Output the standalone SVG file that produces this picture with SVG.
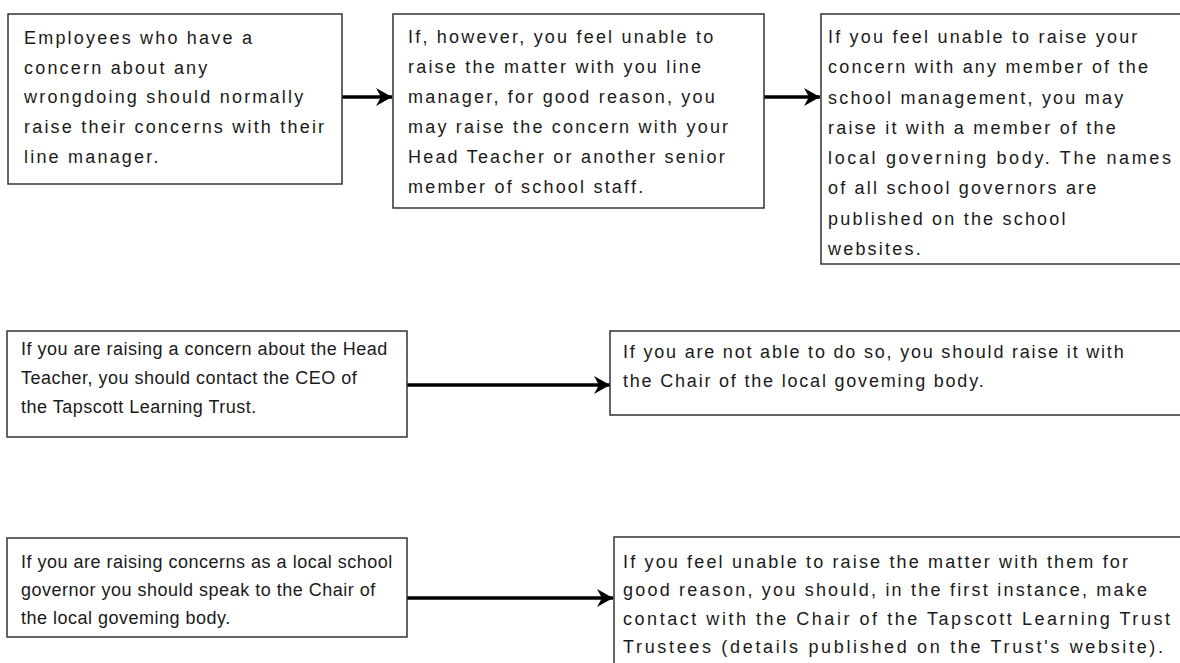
<svg xmlns="http://www.w3.org/2000/svg" width="1180" height="663" viewBox="0 0 1180 663">
<style>
.box{fill:#fff;stroke:#333;stroke-width:1.5}
.t{font-family:"Liberation Sans",Arial,sans-serif;font-size:18px;fill:#1a1a1a}
.w{letter-spacing:2.2px}
.n{letter-spacing:0.5px}
.m{letter-spacing:1.8px}
.c{stroke:#000;stroke-width:3.5;fill:none;marker-end:url(#ah)}
</style>
<defs>
<marker id="ah" markerUnits="userSpaceOnUse" markerWidth="18" markerHeight="20" refX="16" refY="10" orient="auto">
<path d="M0,1 L16,10 L0,19 L5,10 z" fill="#000"/>
</marker>
</defs>
<rect width="1180" height="663" fill="#fff"/>
<g id="connectors">
<line class="c" x1="342" y1="97" x2="392" y2="97"/>
<line class="c" x1="764" y1="97" x2="820" y2="97"/>
<line class="c" x1="407" y1="385" x2="610" y2="385"/>
<line class="c" x1="407" y1="598" x2="613" y2="598"/>
</g>
<g id="node1">
<rect class="box" x="8" y="14" width="334" height="170"/>
<text class="t w" x="24" y="44">Employees who have a</text>
<text class="t w" x="24" y="74">concern about any</text>
<text class="t w" x="24" y="103">wrongdoing should normally</text>
<text class="t w" x="24" y="133">raise their concerns with their</text>
<text class="t w" x="24" y="163">line manager.</text>
</g>
<g id="node2">
<rect class="box" x="393" y="14" width="371" height="194"/>
<text class="t w" x="408" y="43">If, however, you feel unable to</text>
<text class="t w" x="408" y="73">raise the matter with you line</text>
<text class="t w" x="408" y="103">manager, for good reason, you</text>
<text class="t w" x="408" y="133">may raise the concern with your</text>
<text class="t w" x="408" y="163">Head Teacher or another senior</text>
<text class="t w" x="408" y="193">member of school staff.</text>
</g>
<g id="node3">
<rect class="box" x="821" y="14" width="370" height="250"/>
<text class="t w" x="828" y="43">If you feel unable to raise your</text>
<text class="t w" x="828" y="73">concern with any member of the</text>
<text class="t w" x="828" y="104">school management, you may</text>
<text class="t w" x="828" y="134">raise it with a member of the</text>
<text class="t" x="828" y="164" textLength="343" lengthAdjust="spacing">local governing body. The names</text>
<text class="t w" x="828" y="194">of all school governors are</text>
<text class="t w" x="828" y="225">published on the school</text>
<text class="t w" x="828" y="255">websites.</text>
</g>
<g id="node4">
<rect class="box" x="7" y="331" width="400" height="106"/>
<text class="t n" x="21" y="355">If you are raising a concern about the Head</text>
<text class="t n" x="21" y="384">Teacher, you should contact the CEO of</text>
<text class="t n" x="21" y="413">the Tapscott Learning Trust.</text>
</g>
<g id="node5">
<rect class="box" x="610" y="331" width="580" height="84"/>
<text class="t m" x="623" y="358">If you are not able to do so, you should raise it with</text>
<text class="t m" x="623" y="387">the Chair of the local goveming body.</text>
</g>
<g id="node6">
<rect class="box" x="7" y="538" width="400" height="99"/>
<text class="t n" x="21" y="568">If you are raising concerns as a local school</text>
<text class="t n" x="21" y="596">governor you should speak to the Chair of</text>
<text class="t n" x="21" y="624">the local goveming body.</text>
</g>
<g id="node7">
<rect class="box" x="614" y="537" width="576" height="140"/>
<text class="t" x="623" y="568" textLength="505" lengthAdjust="spacing">If you feel unable to raise the matter with them for</text>
<text class="t" x="623" y="596" textLength="524" lengthAdjust="spacing">good reason, you should, in the first instance, make</text>
<text class="t" x="623" y="625" textLength="547" lengthAdjust="spacing">contact with the Chair of the Tapscott Learning Trust</text>
<text class="t" x="623" y="653" textLength="540" lengthAdjust="spacing">Trustees (details published on the Trust's website).</text>
</g>
</svg>
